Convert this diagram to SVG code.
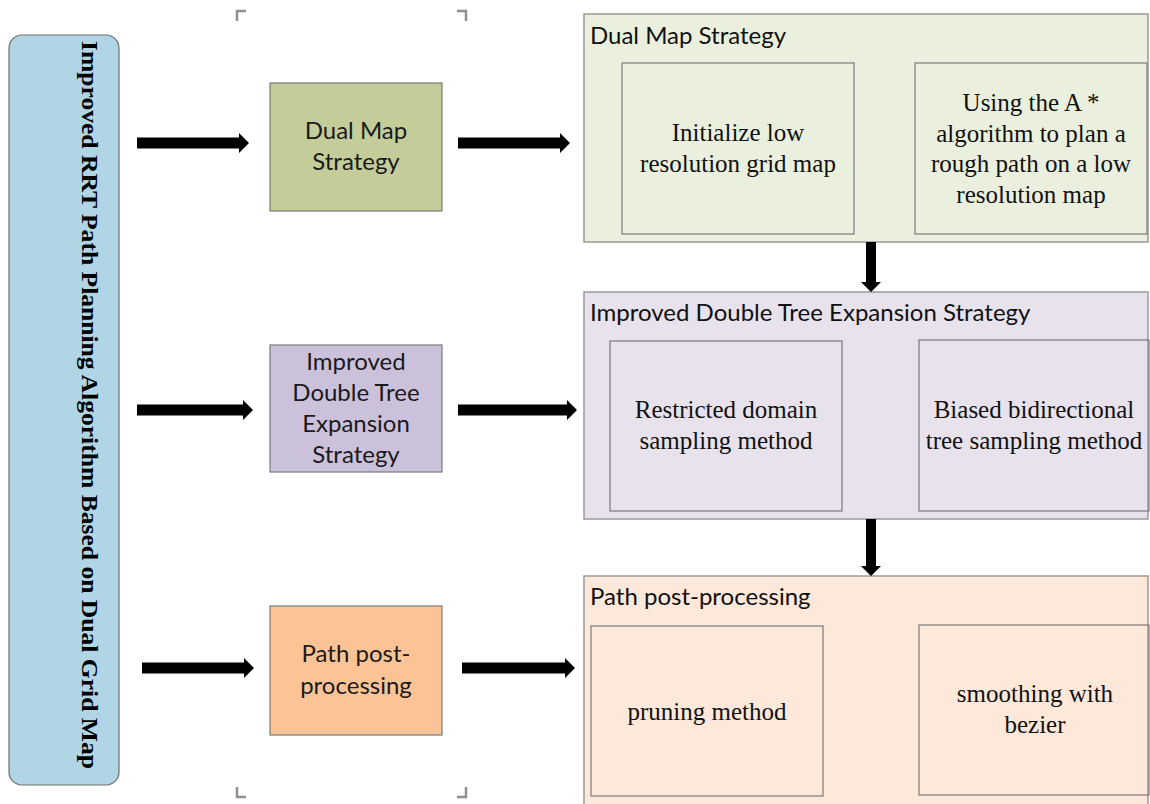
<svg xmlns="http://www.w3.org/2000/svg" width="1150" height="804" viewBox="0 0 1150 804">
  <style>
    .title-bar { fill: #b0d6e6; stroke: #6f6f6f; stroke-width: 1.2; }
    .title-text { font-family: "Liberation Serif", "Times New Roman", serif; font-weight: bold; font-size: 24px; fill: #000; }
    .step { stroke: #7a7a7a; stroke-width: 1.2; }
    .step-text { font-family: Lato, "Open Sans", sans-serif; font-size: 24px; fill: #1a1a1a; text-anchor: middle; }
    .panel { stroke: #9a9a9a; stroke-width: 1.5; }
    .panel-title { font-family: Lato, "Open Sans", sans-serif; font-size: 24px; fill: #111; }
    .item { fill: none; stroke: #7a7a7a; stroke-width: 1.2; }
    .item-text { font-family: "Liberation Serif", "Times New Roman", serif; font-size: 25px; fill: #111; text-anchor: middle; }
    .arrow { fill: #000; }
    .crop { fill: none; stroke: #8f8f8f; stroke-width: 2.5; }
  </style>

  <rect width="1150" height="804" fill="#ffffff"/>

  <!-- crop marks around the middle column -->
  <g id="crop-marks">
    <path class="crop" d="M237 21 V11 H246"/>
    <path class="crop" d="M457 11 H466 V21"/>
    <path class="crop" d="M237 787 V797 H246"/>
    <path class="crop" d="M457 797 H466 V787"/>
  </g>

  <!-- vertical title bar -->
  <g id="algorithm-title">
    <rect class="title-bar" x="9" y="35" width="110" height="750" rx="13" ry="13"/>
    <text class="title-text" transform="translate(82 405) rotate(90)" text-anchor="middle" textLength="728" lengthAdjust="spacingAndGlyphs">Improved RRT Path Planning Algorithm Based on Dual Grid Map</text>
  </g>

  <!-- strategy boxes -->
  <g id="step-dual-map">
    <rect class="step" x="270" y="83" width="172" height="128" fill="#c4cd9a"/>
    <text class="step-text" x="356" y="139">Dual Map</text>
    <text class="step-text" x="356" y="170">Strategy</text>
  </g>
  <g id="step-double-tree">
    <rect class="step" x="270" y="345" width="172" height="127" fill="#ccc1da"/>
    <text class="step-text" x="356" y="370">Improved</text>
    <text class="step-text" x="356" y="401">Double Tree</text>
    <text class="step-text" x="356" y="432">Expansion</text>
    <text class="step-text" x="356" y="463">Strategy</text>
  </g>
  <g id="step-post-processing">
    <rect class="step" x="270" y="606" width="172" height="129" fill="#fcc496"/>
    <text class="step-text" x="356" y="662">Path post-</text>
    <text class="step-text" x="356" y="694">processing</text>
  </g>

  <!-- detail panels -->
  <g id="panel-dual-map">
    <rect class="panel" x="584" y="14" width="564" height="228" fill="#ebf0de"/>
    <text class="panel-title" x="590" y="44">Dual Map Strategy</text>
    <rect class="item" x="622" y="63" width="232" height="171"/>
    <text class="item-text" x="738" y="141">Initialize low</text>
    <text class="item-text" x="738" y="172">resolution grid map</text>
    <rect class="item" x="915" y="63" width="232" height="171"/>
    <text class="item-text" x="1031" y="111">Using the A *</text>
    <text class="item-text" x="1031" y="142">algorithm to plan a</text>
    <text class="item-text" x="1031" y="172">rough path on a low</text>
    <text class="item-text" x="1031" y="203">resolution map</text>
  </g>
  <g id="panel-double-tree">
    <rect class="panel" x="584" y="292" width="564" height="227" fill="#e7e2ec"/>
    <text class="panel-title" x="590" y="321">Improved Double Tree Expansion Strategy</text>
    <rect class="item" x="610" y="341" width="232" height="170"/>
    <text class="item-text" x="726" y="418">Restricted domain</text>
    <text class="item-text" x="726" y="449">sampling method</text>
    <rect class="item" x="919" y="340" width="230" height="171"/>
    <text class="item-text" x="1034" y="418">Biased bidirectional</text>
    <text class="item-text" x="1034" y="449">tree sampling method</text>
  </g>
  <g id="panel-post-processing">
    <rect class="panel" x="584" y="576" width="564" height="232" fill="#fde8da"/>
    <text class="panel-title" x="590" y="605">Path post-processing</text>
    <rect class="item" x="591" y="626" width="232" height="170"/>
    <text class="item-text" x="707" y="720">pruning method</text>
    <rect class="item" x="919" y="625" width="230" height="170"/>
    <text class="item-text" x="1035" y="702">smoothing with</text>
    <text class="item-text" x="1035" y="733">bezier</text>
  </g>

  <!-- connectors -->
  <g id="connectors">
    <path class="arrow" d="M137 137.5 H239 V133 L249 143 L239 153 V148.5 H137 Z"/>
    <path class="arrow" d="M458 137.5 H560 V133 L570 143 L560 153 V148.5 H458 Z"/>
    <path class="arrow" d="M137 404.5 H243 V400 L253 410 L243 420 V415.5 H137 Z"/>
    <path class="arrow" d="M458 404.5 H567 V400 L577 410 L567 420 V415.5 H458 Z"/>
    <path class="arrow" d="M142 662.5 H244 V658 L254 668 L244 678 V673.5 H142 Z"/>
    <path class="arrow" d="M462 662.5 H565 V658 L575 668 L565 678 V673.5 H462 Z"/>
    <path class="arrow" d="M866 242 H876 V282 H881 L871 292 L861 282 H866 Z"/>
    <path class="arrow" d="M866 519 H876 V566 H881 L871 576 L861 566 H866 Z"/>
  </g>
</svg>
